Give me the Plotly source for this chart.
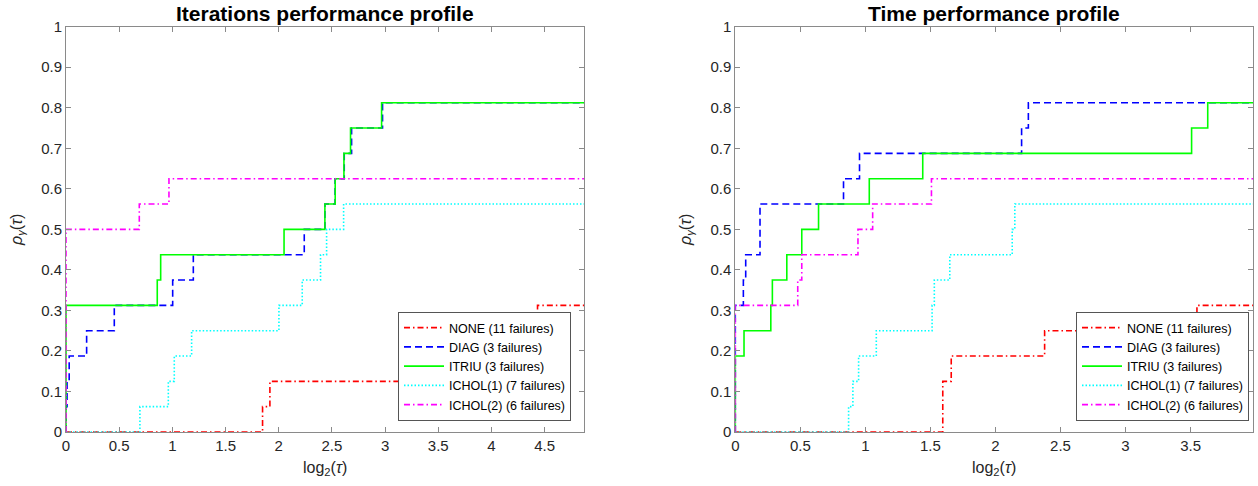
import plotly.graph_objects as go

# ---------------- data (step break points) ----------------
series_names = ["NONE (11 failures)", "DIAG (3 failures)", "ITRIU (3 failures)",
                "ICHOL(1) (7 failures)", "ICHOL(2) (6 failures)"]

# Iterations performance profile
iter_none_x = [1.848, 1.917, 4.433]
iter_none_y = [0.0625, 0.125, 0.3125]
iter_diag_x = [0, 0.01, 0.03, 0.194, 0.454, 1.003, 1.197, 2.24, 2.434, 2.53, 2.616, 2.685, 2.976]
iter_diag_y = [0.0625, 0.125, 0.1875, 0.25, 0.3125, 0.375, 0.4375, 0.5, 0.5625, 0.625, 0.6875, 0.75, 0.8125]
iter_itriu_x = [0, 0.858, 0.89, 2.05, 2.434, 2.531, 2.613, 2.675, 2.967]
iter_itriu_y = [0.3125, 0.375, 0.4375, 0.5, 0.5625, 0.625, 0.6875, 0.75, 0.8125]
iter_ichol1_x = [0.695, 0.962, 1.018, 1.181, 2.002, 2.221, 2.393, 2.45, 2.61]
iter_ichol1_y = [0.0625, 0.125, 0.1875, 0.25, 0.3125, 0.375, 0.4375, 0.5, 0.5625]
iter_ichol2_x = [0, 0.689, 0.968]
iter_ichol2_y = [0.5, 0.5625, 0.625]
iter_xmax = 4.87

# Time performance profile
time_none_x = [1.595, 1.66, 2.378, 3.549]
time_none_y = [0.125, 0.1875, 0.25, 0.3125]
time_diag_x = [0, 0.062, 0.08, 0.19, 0.832, 0.955, 2.201, 2.253]
time_diag_y = [0.3125, 0.375, 0.4375, 0.5625, 0.625, 0.6875, 0.75, 0.8125]
time_itriu_x = [0, 0.067, 0.273, 0.285, 0.396, 0.511, 0.64, 1.03, 1.441, 3.508, 3.632]
time_itriu_y = [0.1875, 0.25, 0.3125, 0.375, 0.4375, 0.5, 0.5625, 0.625, 0.6875, 0.75, 0.8125]
time_ichol1_x = [0.871, 0.904, 0.948, 1.084, 1.513, 1.53, 1.649, 2.129, 2.149]
time_ichol1_y = [0.0625, 0.125, 0.1875, 0.25, 0.3125, 0.375, 0.4375, 0.5, 0.5625]
time_ichol2_x = [0, 0.48, 0.511, 0.943, 1.056, 1.508]
time_ichol2_y = [0.3125, 0.375, 0.4375, 0.5, 0.5625, 0.625]
time_xmax = 3.98

y_ticks = [0, 0.1, 0.2, 0.3, 0.4, 0.5, 0.6, 0.7, 0.8, 0.9, 1]
y_ticklabels = ["0", "0.1", "0.2", "0.3", "0.4", "0.5", "0.6", "0.7", "0.8", "0.9", "1"]
iter_xticks = [0, 0.5, 1, 1.5, 2, 2.5, 3, 3.5, 4, 4.5]
iter_xticklabels = ["0", "0.5", "1", "1.5", "2", "2.5", "3", "3.5", "4", "4.5"]
time_xticks = [0, 0.5, 1, 1.5, 2, 2.5, 3, 3.5]
time_xticklabels = ["0", "0.5", "1", "1.5", "2", "2.5", "3", "3.5"]

# ---------------- styles ----------------
colors = ["#ff0000", "#0000ff", "#00ff00", "#00ffff", "#ff00ff"]
dashes = ["6px,3px,1.5px,3px", "7px,4px", "solid", "1.5px,2px", "6px,3px,1.5px,3px"]
LW = 1.6
TXT = "#262626"
AX = "#8a8a8a"
FONT = "Liberation Sans, Arial, Helvetica, sans-serif"

fig = go.Figure()

panels = [
    ("x", "y", "legend", iter_xmax,
     [(iter_none_x, iter_none_y), (iter_diag_x, iter_diag_y), (iter_itriu_x, iter_itriu_y),
      (iter_ichol1_x, iter_ichol1_y), (iter_ichol2_x, iter_ichol2_y)]),
    ("x2", "y2", "legend2", time_xmax,
     [(time_none_x, time_none_y), (time_diag_x, time_diag_y), (time_itriu_x, time_itriu_y),
      (time_ichol1_x, time_ichol1_y), (time_ichol2_x, time_ichol2_y)]),
]

for xa, ya, leg, xmax, data in panels:
    for i, (xs, ys) in enumerate(data):
        px = [0] + list(xs) + [xmax]
        py = [0] + list(ys) + [ys[-1]]
        fig.add_trace(go.Scatter(
            x=px, y=py, mode="lines", line_shape="hv",
            line=dict(color=colors[i], width=LW, dash=dashes[i]),
            name=series_names[i], xaxis=xa, yaxis=ya, legend=leg,
            showlegend=True, hoverinfo="skip"))

W, H = 1258, 486
def fx(p):
    return p / W
def fy(p):
    return 1 - p / H

axis_common = dict(showgrid=False, zeroline=False, showline=True, linecolor=AX, linewidth=1,
                   mirror="ticks", ticks="inside", ticklen=5, tickcolor=AX, tickwidth=1,
                   automargin=False,
                   tickfont=dict(family=FONT, size=15, color=TXT), tickmode="array")

legend_common = dict(xanchor="right", yanchor="bottom",
                     bgcolor="white", bordercolor="#555555", borderwidth=1,
                     font=dict(family=FONT, size=12.5, color="#000000"),
                     tracegroupgap=0, itemwidth=40)

fig.update_layout(
    width=W, height=H,
    margin=dict(l=0, r=0, t=0, b=0),
    paper_bgcolor="white", plot_bgcolor="white",
    font=dict(family=FONT, color=TXT),
    xaxis=dict(domain=[fx(66), fx(584)], range=[0, iter_xmax], anchor="y",
               tickvals=iter_xticks, ticktext=iter_xticklabels, **axis_common),
    yaxis=dict(domain=[fy(432), fy(26.7)], range=[0, 1], anchor="x",
               tickvals=y_ticks, ticktext=y_ticklabels, **axis_common),
    xaxis2=dict(domain=[fx(735.3), fx(1253)], range=[0, time_xmax], anchor="y2",
                tickvals=time_xticks, ticktext=time_xticklabels, **axis_common),
    yaxis2=dict(domain=[fy(432), fy(26.7)], range=[0, 1], anchor="x2",
                tickvals=y_ticks, ticktext=y_ticklabels, **axis_common),
    legend=dict(x=fx(571), y=fy(421), **legend_common),
    legend2=dict(x=fx(1249), y=fy(421), **legend_common),
)

annotations = [
    dict(text="<b>Iterations performance profile</b>", x=fx(325), y=fy(13), xref="paper", yref="paper",
         showarrow=False, xanchor="center", yanchor="middle", font=dict(family=FONT, size=21, color="#000000")),
    dict(text="<b>Time performance profile</b>", x=fx(994), y=fy(13), xref="paper", yref="paper",
         showarrow=False, xanchor="center", yanchor="middle", font=dict(family=FONT, size=21, color="#000000")),
    dict(text="log<sub>2</sub>(<i>τ</i>)", x=fx(325), y=fy(468), xref="paper", yref="paper",
         showarrow=False, xanchor="center", yanchor="middle", font=dict(family=FONT, size=16, color=TXT)),
    dict(text="log<sub>2</sub>(<i>τ</i>)", x=fx(994), y=fy(468), xref="paper", yref="paper",
         showarrow=False, xanchor="center", yanchor="middle", font=dict(family=FONT, size=16, color=TXT)),
    dict(text="<i>ρ</i><sub><i>γ</i></sub>(<i>τ</i>)", x=fx(18), y=fy(230), xref="paper", yref="paper",
         showarrow=False, xanchor="center", yanchor="middle", textangle=-90,
         font=dict(family=FONT, size=16, color=TXT)),
    dict(text="<i>ρ</i><sub><i>γ</i></sub>(<i>τ</i>)", x=fx(687), y=fy(230), xref="paper", yref="paper",
         showarrow=False, xanchor="center", yanchor="middle", textangle=-90,
         font=dict(family=FONT, size=16, color=TXT)),
]
fig.update_layout(annotations=annotations)

# remove the browser's default 8px body margin so the figure sits at the page origin
fig.write_html("out.html", config={"displayModeBar": False},
               post_script="document.body.style.margin='0px';")
